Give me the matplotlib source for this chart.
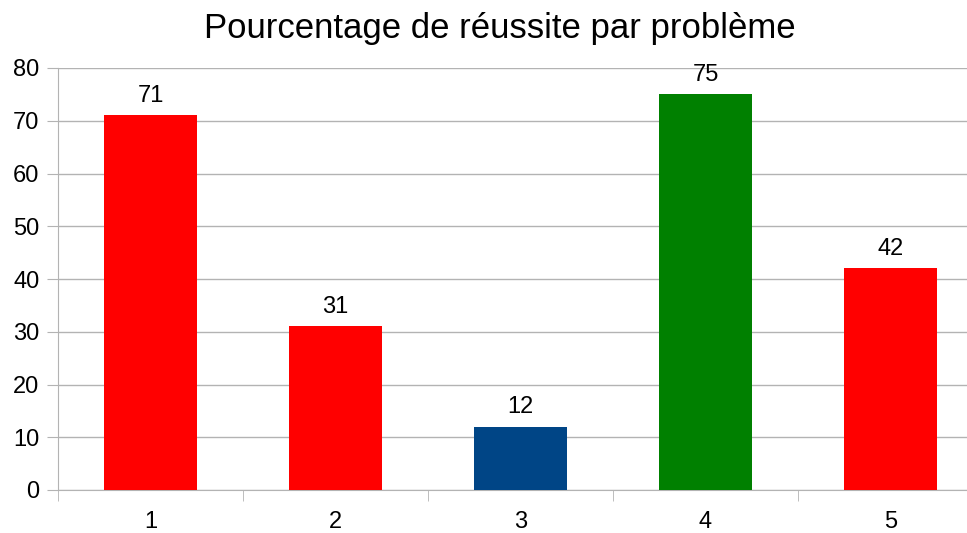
import matplotlib
matplotlib.use('Agg')
from matplotlib import pyplot as plt
from matplotlib.ticker import FixedLocator

problems = ['1', '2', '3', '4', '5']
success = [71, 31, 12, 75, 42]
colors = ['#ff0000', '#ff0000', '#004586', '#008000', '#ff0000']

plt.rcParams['font.family'] = ['Liberation Sans', 'DejaVu Sans']

fig = plt.figure(figsize=(9.67, 5.33), dpi=100)
ax = fig.add_axes([58 / 967, 1 - 490 / 533, 1 - 58 / 967, (490 - 68) / 533])

x = list(range(len(problems)))
bars = ax.bar(x, success, width=0.5, color=colors, zorder=3)
for xi, v in zip(x, success):
    ax.text(xi, v + 1.6, str(v), ha='center', va='bottom', fontsize=17)

ax.set_xlim(-0.5, -0.5 + (967 - 58) / 185)
ax.set_ylim(0, 80)
ax.set_yticks(range(0, 81, 10))
ax.set_xticks(x)
ax.set_xticklabels(problems)
ax.xaxis.set_minor_locator(FixedLocator([i - 0.5 for i in range(6)]))

grid_color = '#b3b3b3'
ax.yaxis.grid(True, color=grid_color, linewidth=1, zorder=0)
ax.tick_params(axis='y', which='major', length=8, color=grid_color, labelsize=17, pad=5.5)
ax.tick_params(axis='x', which='major', length=0, labelsize=17, pad=15)
ax.tick_params(axis='x', which='minor', length=8, color=grid_color)

for side in ['top', 'right']:
    ax.spines[side].set_visible(False)
for side in ['left', 'bottom']:
    ax.spines[side].set_color(grid_color)

fig.suptitle('Pourcentage de réussite par problème', fontsize=25, x=0.517, y=0.978)

fig.savefig('out.png', dpi=100)
